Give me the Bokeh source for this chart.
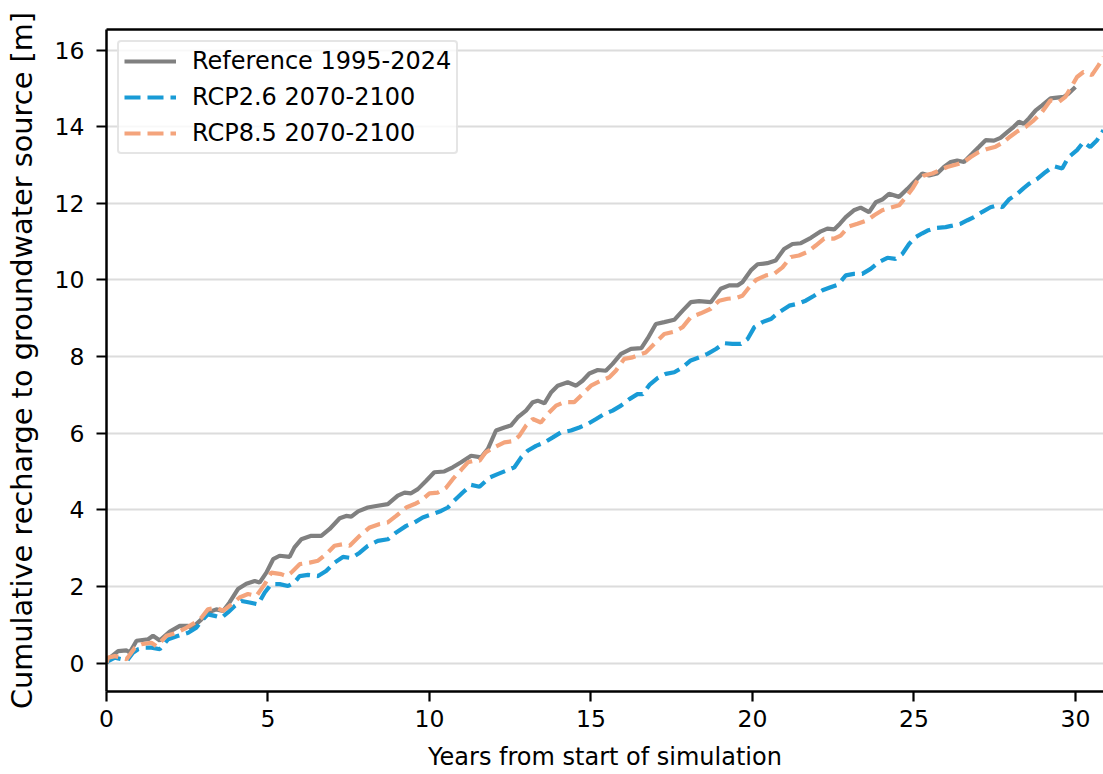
from bokeh.plotting import figure
from bokeh.models import LinearAxis, FixedTicker, Legend, LegendItem
from bokeh.embed import file_html
from bokeh.resources import INLINE

# ---------------- data ----------------
ref_years = [0.0, 0.05, 0.36, 0.62, 0.72, 0.93, 1.29, 1.44, 1.65, 1.96, 2.27, 2.53, 2.63, 2.94, 3.14,
             3.40, 3.61, 3.81, 4.07, 4.33, 4.59, 4.74, 4.95, 5.16, 5.36, 5.67, 5.82, 6.03, 6.34, 6.65,
             6.91, 7.22, 7.42, 7.58, 7.79, 8.09, 8.35, 8.71, 9.02, 9.23, 9.43, 9.64, 9.90, 10.15, 10.46,
             10.72, 10.98, 11.29, 11.60, 11.81, 12.06, 12.32, 12.52, 12.73, 12.99, 13.20, 13.35, 13.56,
             13.77, 13.97, 14.28, 14.54, 14.74, 14.95, 15.21, 15.46, 15.67, 15.93, 16.24, 16.56, 16.76,
             17.01, 17.27, 17.58, 17.84, 18.09, 18.35, 18.71, 19.02, 19.28, 19.54, 19.69, 19.95, 20.16,
             20.46, 20.72, 20.98, 21.24, 21.50, 21.81, 22.12, 22.32, 22.53, 22.71, 22.89, 23.14, 23.35,
             23.61, 23.82, 24.02, 24.23, 24.54, 24.80, 25.05, 25.26, 25.47, 25.72, 25.93, 26.14, 26.34,
             26.55, 26.81, 27.01, 27.22, 27.48, 27.68, 27.89, 28.09, 28.25, 28.40, 28.56, 28.77, 28.97,
             29.23, 29.43, 29.64, 29.79, 30.00]
ref_values = [0.0, 0.10, 0.31, 0.33, 0.27, 0.58, 0.62, 0.71, 0.59, 0.82, 0.97, 0.97, 0.90, 1.14, 1.32,
              1.40, 1.36, 1.58, 1.93, 2.07, 2.14, 2.10, 2.36, 2.71, 2.80, 2.77, 3.02, 3.23, 3.32, 3.32,
              3.50, 3.78, 3.84, 3.82, 3.96, 4.06, 4.10, 4.15, 4.37, 4.45, 4.43, 4.54, 4.76, 4.98, 5.00,
              5.11, 5.24, 5.41, 5.37, 5.59, 6.07, 6.15, 6.20, 6.41, 6.59, 6.81, 6.85, 6.78,
              7.07, 7.24, 7.33, 7.24, 7.37, 7.56, 7.65, 7.63, 7.81, 8.07, 8.20, 8.22, 8.48,
              8.85, 8.90, 8.96, 9.20, 9.42, 9.45, 9.42, 9.77, 9.86, 9.86, 9.94, 10.25, 10.41,
              10.44, 10.51, 10.81, 10.94, 10.96, 11.10, 11.27, 11.34, 11.32, 11.47, 11.64, 11.82, 11.89,
              11.77, 12.03, 12.10, 12.25, 12.17, 12.38, 12.60, 12.78, 12.73, 12.78, 12.95, 13.08, 13.12,
              13.08, 13.30, 13.47, 13.65, 13.64, 13.71, 13.86, 14.00, 14.13, 14.08, 14.22, 14.43, 14.56,
              14.74, 14.76, 14.78, 14.87, 15.04]

rcp26_years = [0.0, 0.05, 0.26, 0.46, 0.65, 0.82, 0.98, 1.19, 1.39, 1.65, 1.91, 2.22, 2.53, 2.78, 2.94,
               3.14, 3.35, 3.56, 3.76, 3.97, 4.18, 4.43, 4.69, 4.90, 5.10, 5.36, 5.62, 5.82, 5.98, 6.24,
               6.55, 6.80, 7.06, 7.32, 7.58, 7.84, 8.09, 8.40, 8.71, 8.97, 9.28, 9.54, 9.79, 10.10, 10.36,
               10.57, 10.77, 11.03, 11.29, 11.55, 11.86, 12.11, 12.43, 12.63, 12.84, 13.04, 13.30, 13.56,
               13.82, 14.07, 14.38, 14.64, 14.90, 15.16, 15.41, 15.67, 15.93, 16.19, 16.44, 16.60, 16.81,
               17.08, 17.32, 17.58, 17.84, 18.09, 18.35, 18.61, 18.87, 19.12, 19.38, 19.64, 19.85, 20.06,
               20.31, 20.57, 20.83, 21.14, 21.40, 21.65, 21.91, 22.17, 22.42, 22.65, 22.89, 23.14, 23.40,
               23.66, 23.92, 24.18, 24.43, 24.64, 24.85, 25.05, 25.26, 25.42, 25.68, 25.98, 26.19, 26.45,
               26.66, 26.86, 27.12, 27.37, 27.58, 27.74, 27.94, 28.20, 28.40, 28.56, 28.82, 29.08, 29.33,
               29.59, 29.79, 30.05, 30.25, 30.46, 30.67, 30.87]
rcp26_values = [0.0, 0.05, 0.14, 0.10, 0.08, 0.27, 0.36, 0.40, 0.40, 0.36, 0.62, 0.71, 0.79, 0.92, 1.10,
                1.27, 1.23, 1.18, 1.32, 1.49, 1.62, 1.58, 1.53, 1.84, 2.06, 2.06, 2.01, 2.10, 2.27, 2.30,
                2.27, 2.40, 2.62, 2.77, 2.74, 2.88, 3.06, 3.19, 3.23, 3.41, 3.58, 3.67, 3.80, 3.89, 3.97,
                4.06, 4.24, 4.45, 4.65, 4.60, 4.84, 4.93, 5.04, 5.11, 5.37, 5.54, 5.67, 5.76,
                5.89, 6.02, 6.07, 6.15, 6.24, 6.37, 6.50, 6.59, 6.72, 6.89, 7.02, 7.02, 7.26,
                7.45, 7.55, 7.59, 7.72, 7.90, 7.98, 8.07, 8.20, 8.35, 8.33, 8.33, 8.46, 8.77,
                8.90, 8.98, 9.16, 9.33, 9.38, 9.46, 9.59, 9.73, 9.81, 9.88, 10.12, 10.16, 10.16,
                10.29, 10.47, 10.58, 10.55, 10.68, 10.94, 11.12, 11.22, 11.29, 11.36, 11.38, 11.42, 11.47,
                11.56, 11.64, 11.78, 11.90, 11.95, 11.90, 12.10, 12.25, 12.40, 12.51, 12.64, 12.82, 12.97,
                12.91, 13.21, 13.39, 13.60, 13.47, 13.65, 13.91]

rcp85_years = [0.0, 0.05, 0.26, 0.46, 0.62, 0.88, 1.08, 1.39, 1.55, 1.86, 2.17, 2.47, 2.73, 2.94, 3.14,
               3.40, 3.61, 3.87, 4.12, 4.38, 4.64, 4.90, 5.10, 5.41, 5.57, 5.72, 5.98, 6.29, 6.55, 6.80,
               7.06, 7.32, 7.53, 7.84, 8.15, 8.46, 8.71, 8.97, 9.28, 9.54, 9.74, 10.00, 10.26, 10.52,
               10.72, 10.98, 11.19, 11.39, 11.55, 11.74, 12.00, 12.32, 12.58, 12.78, 12.99, 13.20, 13.45,
               13.66, 13.92, 14.17, 14.48, 14.74, 15.00, 15.31, 15.57, 15.77, 16.03, 16.29, 16.55, 16.70,
               16.91, 17.27, 17.58, 17.84, 18.09, 18.40, 18.71, 18.97, 19.23, 19.49, 19.69, 19.90, 20.11,
               20.42, 20.67, 20.93, 21.19, 21.44, 21.70, 21.96, 22.22, 22.53, 22.73, 22.99, 23.25, 23.56,
               23.77, 24.02, 24.28, 24.54, 24.75, 24.95, 25.11, 25.31, 25.57, 25.78, 26.03, 26.34, 26.55,
               26.76, 27.01, 27.27, 27.53, 27.74, 27.94, 28.20, 28.46, 28.71, 28.97, 29.23, 29.49, 29.69,
               29.90, 30.05, 30.25, 30.51, 30.72, 30.87]
rcp85_values = [0.0, 0.14, 0.18, 0.14, 0.10, 0.40, 0.49, 0.53, 0.44, 0.71, 0.79, 0.92, 1.05, 1.18, 1.40,
                1.45, 1.36, 1.53, 1.71, 1.80, 1.75, 2.06, 2.36, 2.32, 2.27, 2.36, 2.58, 2.62, 2.67, 2.84,
                3.06, 3.10, 3.06, 3.32, 3.54, 3.63, 3.67, 3.84, 4.06, 4.15, 4.24, 4.43, 4.45, 4.58,
                4.80, 5.04, 5.24, 5.28, 5.28, 5.50, 5.63, 5.76, 5.79, 5.93, 6.20, 6.37, 6.28,
                6.50, 6.72, 6.81, 6.81, 7.02, 7.24, 7.37, 7.46, 7.63, 7.94, 7.98, 8.07, 8.11,
                8.29, 8.59, 8.65, 8.77, 9.03, 9.13, 9.25, 9.46, 9.51, 9.53, 9.59, 9.81, 10.00,
                10.12, 10.16, 10.33, 10.60, 10.64, 10.73, 10.90, 11.08, 11.08, 11.16, 11.40, 11.47, 11.56,
                11.69, 11.82, 11.89, 11.95, 12.16, 12.38, 12.60, 12.73, 12.78, 12.86, 12.95, 13.02, 13.08,
                13.21, 13.34, 13.42, 13.48, 13.58, 13.72, 13.88, 14.00, 14.17, 14.39, 14.69, 14.65, 14.78,
                15.08, 15.30, 15.43, 15.35, 15.61, 15.82]

series_labels = ["Reference 1995-2024", "RCP2.6 2070-2100", "RCP8.5 2070-2100"]
x_ticks = [0, 5, 10, 15, 20, 25, 30]
y_ticks = [0, 2, 4, 6, 8, 10, 12, 14, 16]
x_label = "Years from start of simulation"
y_label = "Cumulative recharge to groundwater source [m]"

# ---------------- figure ----------------
FONT = "DejaVu Sans"
p = figure(width=1103, height=774, x_range=(0, 30.87), y_range=(-0.744, 16.54),
           output_backend="svg", toolbar_location=None,
           min_border_left=106, min_border_right=0, min_border_top=29, min_border_bottom=83)
p.outline_line_color = None
p.background_fill_color = "white"
p.border_fill_color = "white"

p.xgrid.visible = False
p.ygrid.grid_line_color = "#dcdcdc"
p.ygrid.grid_line_width = 1.8

for ax in (p.xaxis[0], p.yaxis[0]):
    ax.axis_line_width = 2.5
    ax.axis_line_color = "black"
    ax.major_tick_line_width = 2.2
    ax.major_tick_line_color = "black"
    ax.major_tick_out = 10
    ax.major_tick_in = 0
    ax.minor_tick_line_color = None
    ax.major_label_text_font = FONT
    ax.major_label_text_font_size = "23.5px"
    ax.major_label_text_color = "black"
    ax.axis_label_text_font = FONT
    ax.axis_label_text_font_style = "normal"
    ax.axis_label_text_color = "black"

p.xaxis[0].ticker = FixedTicker(ticks=x_ticks)
p.yaxis[0].ticker = FixedTicker(ticks=y_ticks)
p.xaxis[0].axis_label = x_label
p.yaxis[0].axis_label = y_label
p.xaxis[0].axis_label_text_font_size = "24px"
p.yaxis[0].axis_label_text_font_size = "28.8px"
p.xaxis[0].major_label_standoff = 8
p.yaxis[0].major_label_standoff = 12
p.xaxis[0].axis_label_standoff = 13
p.yaxis[0].axis_label_standoff = 13

top_axis = LinearAxis(ticker=FixedTicker(ticks=[]), axis_line_width=2.5, axis_line_color="black",
                      major_tick_line_color=None, minor_tick_line_color=None)
p.add_layout(top_axis, "above")

r_ref = p.line(ref_years, ref_values, line_color="#808080", line_width=4.2)
r_26 = p.line(rcp26_years, rcp26_values, line_color="#199bd6", line_width=4.2, line_dash="16 7")
r_85 = p.line(rcp85_years, rcp85_values, line_color="#f4a47c", line_width=4.2, line_dash="16 7")

legend = Legend(items=[LegendItem(label=series_labels[0], renderers=[r_ref]),
                       LegendItem(label=series_labels[1], renderers=[r_26]),
                       LegendItem(label=series_labels[2], renderers=[r_85])],
                location="top_left")
legend.margin = 11
legend.padding = 5
legend.spacing = 8
legend.glyph_width = 52
legend.glyph_height = 28
legend.label_height = 28
legend.label_standoff = 16
legend.label_text_font = FONT
legend.label_text_font_size = "24px"
legend.label_text_color = "black"
legend.border_line_color = "#cccccc"
legend.border_line_width = 2
legend.border_radius = 4
legend.background_fill_color = "white"
legend.background_fill_alpha = 0.8
p.add_layout(legend, "center")

open("out.html", "w").write(file_html(p, INLINE))
